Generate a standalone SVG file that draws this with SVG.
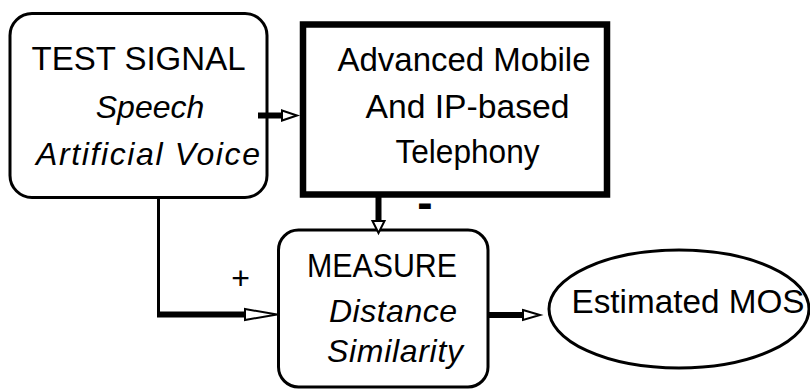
<svg xmlns="http://www.w3.org/2000/svg" width="810" height="389" viewBox="0 0 810 389">
<style>
  .lbl { font-family: "Liberation Sans", Arial, sans-serif; font-size: 34px; fill: #000; text-anchor: middle; }
  .it { font-style: italic; font-size: 32px; }
  .box { fill: #fff; stroke: #000; stroke-width: 3; }
  .thick { fill: #fff; stroke: #000; stroke-width: 6.5; }
  .shaft { fill: none; stroke: #000; stroke-width: 6; }
  .thin { fill: none; stroke: #000; stroke-width: 3; }
  .head { fill: #fff; stroke: #000; stroke-width: 2; stroke-linejoin: miter; }
</style>
<rect width="810" height="389" fill="#fff"/>
<g id="test-signal">
  <rect class="box" x="10" y="13.5" width="257" height="184" rx="22" ry="22"/>
  <text class="lbl" x="138.5" y="70" textLength="214" lengthAdjust="spacingAndGlyphs">TEST SIGNAL</text>
  <text class="lbl it" x="150" y="118">Speech</text>
  <text class="lbl it" x="148" y="165" textLength="224" lengthAdjust="spacing">Artificial Voice</text>
</g>
<g id="telephony">
  <rect class="thick" x="303" y="24.5" width="304" height="170"/>
  <text class="lbl" x="464" y="71" textLength="253" lengthAdjust="spacingAndGlyphs">Advanced Mobile</text>
  <text class="lbl" x="467.5" y="118" textLength="204" lengthAdjust="spacingAndGlyphs">And IP-based</text>
  <text class="lbl" x="467.5" y="163" textLength="144" lengthAdjust="spacingAndGlyphs">Telephony</text>
</g>
<g id="measure">
  <rect class="box" x="278.5" y="230" width="209.5" height="157" rx="20" ry="20"/>
  <text class="lbl" x="382" y="277" textLength="150" lengthAdjust="spacingAndGlyphs">MEASURE</text>
  <text class="lbl it" x="393" y="322" textLength="128" lengthAdjust="spacing">Distance</text>
  <text class="lbl it" x="395" y="362" textLength="136" lengthAdjust="spacing">Similarity</text>
</g>
<g id="mos">
  <ellipse class="box" cx="679" cy="309" rx="130" ry="59"/>
  <text class="lbl" x="688" y="313" textLength="233" lengthAdjust="spacingAndGlyphs">Estimated MOS</text>
</g>
<g id="connectors">
  <line class="shaft" x1="258" y1="115.5" x2="283" y2="115.5"/>
  <polygon class="head" points="282,110.5 297,115.5 282,120.5"/>
  <line class="shaft" x1="378.5" y1="197" x2="378.5" y2="222"/>
  <polygon class="head" points="372.5,221 378.5,233 384.5,221"/>
  <line class="thin" x1="158.5" y1="197" x2="158.5" y2="316"/>
  <line class="shaft" x1="157" y1="314.5" x2="246" y2="314.5"/>
  <polygon class="head" points="245,309 277,314.5 245,320"/>
  <line class="shaft" x1="489" y1="315" x2="524" y2="315"/>
  <polygon class="head" points="523,310 540,315 523,320"/>
  <text class="lbl" x="240.5" y="289" style="font-size:32px">+</text>
  <text class="lbl" x="425" y="218" style="font-size:46px;font-weight:bold">-</text>
</g>
</svg>
